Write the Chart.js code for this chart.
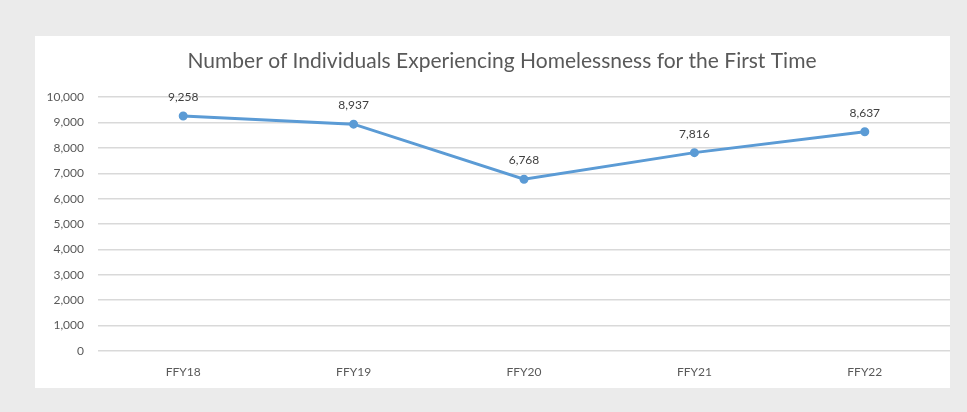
<!DOCTYPE html>
<html>
<head>
<meta charset="utf-8">
<script src="https://cdn.jsdelivr.net/npm/chart.js@4.4.1/dist/chart.umd.min.js"></script>
<style>
html,body{margin:0;padding:0;background:#ebebeb;width:967px;height:412px;overflow:hidden}
#card{position:absolute;left:35px;top:36px;width:915px;height:352px;background:#fff;overflow:hidden}
</style>
</head>
<body>
<div id="card"><canvas id="chart" width="921" height="352"></canvas></div>
<script>
/* ---------------- DATA ---------------- */

const years = ["FFY18","FFY19","FFY20","FFY21","FFY22"]
const firstTime = [9258,8937,6768,7816,8637]
const yTicks = [0,1000,2000,3000,4000,5000,6000,7000,8000,9000,10000]

const FONT = "Lato, 'Open Sans', sans-serif"

/* value labels above each point */
const pointLabels = {
id:"pointLabels",
afterDatasetsDraw(chart){
const ctx = chart.ctx
const meta = chart.getDatasetMeta(0)
ctx.save()
ctx.font = "12px " + FONT
ctx.fillStyle = "#404040"
ctx.textAlign = "center"
ctx.textBaseline = "middle"
meta.data.forEach((pt,i)=>{
ctx.fillText(firstTime[i].toLocaleString("en-US"), pt.x, pt.y - 19)
})
ctx.restore()
}
}

new Chart(document.getElementById("chart"),{
type:"line",
data:{
labels:years,
datasets:[{
data:firstTime,
borderColor:"#5b9bd5",
backgroundColor:"#5b9bd5",
borderWidth:3,
pointRadius:3,
pointHoverRadius:3,
tension:0
}]
},
options:{
responsive:false,
animation:false,
layout:{padding:{left:8,right:-5,top:0,bottom:0}},
plugins:{
legend:{display:false},
tooltip:{enabled:false},
title:{
display:true,
text:"Number of Individuals Experiencing Homelessness for the First Time",
color:"#595959",
font:{family:FONT,size:21,weight:"normal"},
padding:{top:13,bottom:23}
}
},
scales:{
x:{
offset:true,
grid:{display:false,drawTicks:false},
border:{display:false},
ticks:{color:"#595959",font:{family:FONT,size:12},padding:14},
afterFit(scale){scale.height = 37}
},
y:{
min:0,
max:10000,
afterBuildTicks(scale){scale.ticks = yTicks.map(v=>({value:v}))},
grid:{color:"#d9d9d9",lineWidth:1.5,drawTicks:false},
border:{display:false},
ticks:{
color:"#595959",
font:{family:FONT,size:12},
padding:14,
callback:v=>v.toLocaleString("en-US")
},
afterFit(scale){scale.width = 55}
}
}
},
plugins:[pointLabels]
})
</script>
</body>
</html>
